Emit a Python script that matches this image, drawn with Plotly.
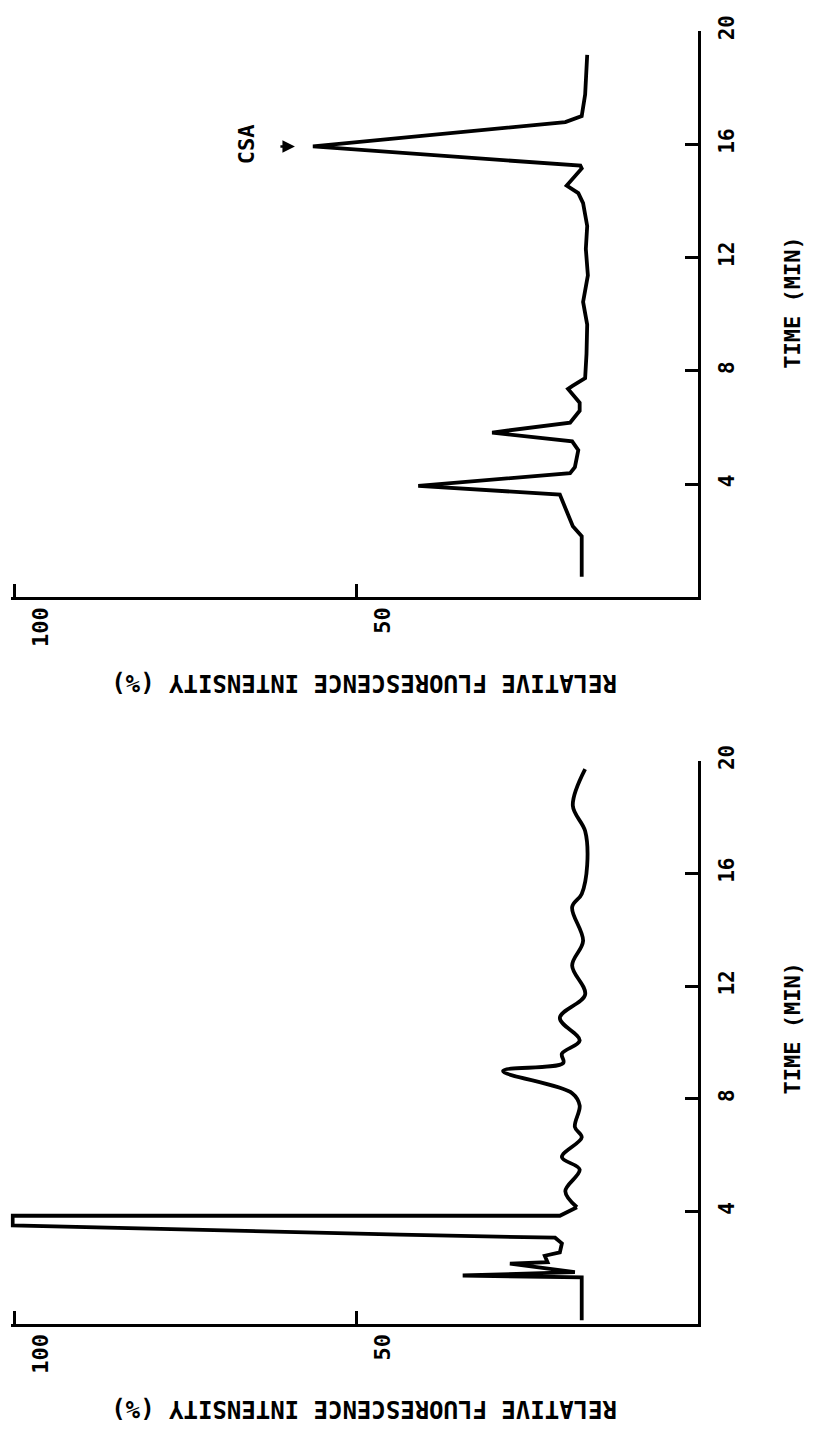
import plotly.graph_objects as go

# ---------------- data ----------------
time_ticks = [4, 8, 12, 16, 20]
int_ticks = [100, 50]
int_tick_text = ["100", "50"]

# upper chromatogram (with CSA peak)
time_a = [0.73, 1.5, 2.16, 2.51, 3.63, 3.94, 4.39, 4.6, 5.2, 5.51, 5.82, 6.17, 6.59, 6.87,
          7.36, 7.46, 7.74, 8.6, 9.63, 10.43, 11.37, 12.3, 13.11, 13.92, 14.27, 14.54,
          15.14, 15.24, 15.92, 16.78, 16.99, 17.75, 18.5, 19.15]
int_a = [17.0, 17.0, 17.0, 18.3, 20.2, 40.9, 18.7, 18.0, 17.5, 18.4, 30.1, 18.7, 17.3, 17.3,
         19.0, 18.4, 16.5, 16.3, 16.2, 16.8, 16.1, 16.4, 16.2, 16.8, 17.5, 19.2,
         17.0, 17.2, 56.3, 19.4, 17.0, 16.5, 16.3, 16.2]

# lower chromatogram
time_b = [0.14, 1.0, 1.66, 1.73, 1.85, 2.15, 2.2, 2.43, 2.55, 2.87, 3.07, 3.18, 3.51, 3.85,
          3.85, 4.15, 4.72, 5.49, 5.93, 6.63, 7.0, 7.76, 8.2, 8.99, 9.27, 9.6, 10.07, 10.87,
          11.7, 12.73, 13.6, 14.8, 15.27, 16.3, 17.5, 18.4, 19.7]
int_b = [17.0, 17.0, 17.0, 34.4, 18.0, 27.5, 22.0, 22.4, 20.2, 19.9, 20.9, 43.6, 100.2, 100.2,
         20.2, 17.7, 19.4, 17.3, 19.9, 17.0, 18.0, 17.3, 18.4, 28.5, 19.7, 19.9, 17.3, 20.2,
         16.5, 18.4, 16.8, 18.4, 17.0, 16.2, 16.5, 18.3, 16.5]

peak_label = "CSA"
x_title = "RELATIVE FLUORESCENCE INTENSITY (%)"
y_title = "TIME (MIN)"

# ---------------- figure ----------------
W, H = 817, 1434
FONT = "DejaVu Sans Mono"
ink = "black"
LW = 3.8

fig = go.Figure()
fig.add_trace(go.Scatter(x=int_a, y=time_a, mode="lines", xaxis="x", yaxis="y",
                         line=dict(color=ink, width=LW), hoverinfo="skip", showlegend=False))
# lower trace: sharp early part drawn straight, smooth baseline afterwards
k = time_b.index(4.15)
fig.add_trace(go.Scatter(x=int_b[:k + 1], y=time_b[:k + 1], mode="lines", xaxis="x2", yaxis="y2",
                         line=dict(color=ink, width=LW), hoverinfo="skip", showlegend=False))
fig.add_trace(go.Scatter(x=int_b[k:], y=time_b[k:], mode="lines", xaxis="x2", yaxis="y2",
                         line=dict(color=ink, width=LW, shape="spline", smoothing=1.0),
                         hoverinfo="skip", showlegend=False))

x_dom = [10.6 / W, 698 / W]
top_dom = [1 - 588 / H, 1 - 15 / H]
bot_dom = [1 - 1323 / H, 1 - 753 / H]

def xax(anchor):
    return dict(domain=x_dom, range=[100.5, 0], anchor=anchor, showline=True, linewidth=3,
                linecolor=ink, ticks="inside", ticklen=13, tickwidth=3, tickcolor=ink,
                tickvals=int_ticks, ticktext=int_tick_text, tickangle=-90,
                tickfont=dict(family=FONT, size=22, color=ink, weight="bold"),
                ticklabelshift=-27, ticklabelstandoff=-2, ticklabeloverflow="allow",
                showgrid=False, zeroline=False, fixedrange=True)

def yax(anchor, dom):
    return dict(domain=dom, range=[0, 20], anchor=anchor, side="right", showline=True,
                linewidth=3, linecolor=ink, ticks="inside", ticklen=13, tickwidth=3,
                tickcolor=ink, tickvals=time_ticks, tickangle=-90,
                tickfont=dict(family=FONT, size=21, color=ink, weight="bold"),
                ticklabelstandoff=8, ticklabeloverflow="allow",
                showgrid=False, zeroline=False, fixedrange=True)

fig.update_layout(
    width=W, height=H, margin=dict(l=0, r=0, t=0, b=0),
    paper_bgcolor="white", plot_bgcolor="white",
    xaxis=xax("y"), yaxis=yax("x", top_dom),
    xaxis2=xax("y2"), yaxis2=yax("x2", bot_dom),
)

title_font = dict(family=FONT, size=24, color=ink, weight="bold")
ann = []
for ypos in [1 - 674 / H, 1 - 1408 / H]:
    ann.append(dict(text=x_title, xref="paper", yref="paper", x=364 / W, y=ypos,
                    xanchor="center", yanchor="middle", textangle=180, showarrow=False,
                    font=title_font))
for ypos in [1 - 290 / H, 1 - 1024 / H]:
    ann.append(dict(text=y_title, xref="paper", yref="paper", x=793 / W, y=ypos,
                    xanchor="center", yanchor="middle", textangle=-90, showarrow=False,
                    font=dict(family=FONT, size=22, color=ink, weight="bold")))

# CSA label next to its peak (largest value of the upper trace after 10 min)
i_pk = max(range(len(int_a)), key=lambda i: int_a[i] if time_a[i] > 10 else -1)
ann.append(dict(text="", x=int_a[i_pk], y=time_a[i_pk], xref="x", yref="y",
                showarrow=True, arrowhead=2, arrowsize=1, arrowwidth=2.5, arrowcolor=ink,
                ax=-34, ay=0, standoff=18))
ann.append(dict(text=peak_label, x=int_a[i_pk], y=time_a[i_pk], xref="x", yref="y",
                xshift=-66, yshift=2, textangle=-90, showarrow=False,
                font=dict(family=FONT, size=22, color=ink, weight="bold")))
fig.update_layout(annotations=ann)

fig.write_html("out.html", config={"displayModeBar": False},
               post_script="document.body.style.margin='0';")
